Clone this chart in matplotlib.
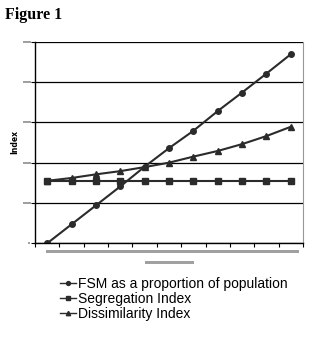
import matplotlib
matplotlib.use("Agg")
import matplotlib.pyplot as plt
from matplotlib.patches import Rectangle

# values (y axis units = gridline steps)
steps = list(range(11))
fsm = [0.0, 0.47, 0.94, 1.41, 1.90, 2.36, 2.79, 3.28, 3.74, 4.21, 4.69]
segregation = [1.55] * 11
dissimilarity = [1.55, 1.62, 1.71, 1.79, 1.89, 2.00, 2.15, 2.29, 2.46, 2.66, 2.89]
series_names = ["FSM as a proportion of population", "Segregation Index", "Dissimilarity Index"]

W, H = 328, 344
fig = plt.figure(figsize=(W / 100, H / 100), dpi=100)
fig.patch.set_facecolor("white")

ax = fig.add_axes([35 / W, 1 - 243.3 / H, (303 - 35) / W, (243.3 - 41.7) / H])

line_col = "#2b2b2b"
ax.plot(steps, fsm, color=line_col, lw=1.5, marker="o", ms=4, label=series_names[0])
ax.plot(steps, segregation, color=line_col, lw=1.5, marker="s", ms=4, label=series_names[1])
ax.plot(steps, dissimilarity, color=line_col, lw=1.5, marker="^", ms=4.5, label=series_names[2])

ax.set_xlim(-0.5, 10.5)
ax.set_ylim(0, 5)
ax.set_xticks([k - 0.5 for k in range(12)])
ax.set_yticks(range(6))
ax.set_xticklabels([])
ax.set_yticklabels([])
ax.tick_params(axis="both", direction="out", length=3, width=0.8, color="black")
ax.yaxis.grid(True, color="black", lw=0.9)
ax.set_axisbelow(True)
for side in ["left", "bottom"]:
    ax.spines[side].set_color("black")
    ax.spines[side].set_linewidth(1.0)
ax.spines["top"].set_visible(False)
ax.spines["right"].set_color("#999999")
ax.spines["right"].set_linewidth(0.8)

# redacted tick / axis labels appear as grey bars in the reference
gray = "#a0a0a0"
def bar(x0, y0, x1, y1):
    fig.add_artist(Rectangle((x0 / W, 1 - y1 / H), (x1 - x0) / W, (y1 - y0) / H,
                             transform=fig.transFigure, color=gray, lw=0))

for k in range(1, 6):
    yy = 243.3 - k * 40.3
    bar(22.7, yy - 1.2, 30.7, yy + 1.0)
bar(27.7, 242.3, 30.0, 244.3)
bar(46, 250, 299, 253)
bar(145, 261, 194, 264)

fig.text(14.5 / W, 1 - 142 / H, "Index", rotation=90, fontsize=5.5, fontweight="bold",
         ha="center", va="center")

fig.text(5 / W, 1 - 19 / H, "Figure 1", fontsize=11.5, fontweight="bold",
         family="Liberation Serif", ha="left", va="baseline")

handles, labels = ax.get_legend_handles_labels()
leg = fig.legend(handles, labels, loc="upper left", bbox_to_anchor=(54 / W, 1 - 271 / H),
                 frameon=False, handlelength=1.2, handletextpad=0.15,
                 labelspacing=0.1, borderaxespad=0, markerscale=0.7,
                 prop={"family": "Liberation Sans", "size": 10})
for l in leg.get_lines():
    l.set_linewidth(1.0)

fig.savefig("out.png", dpi=100)
